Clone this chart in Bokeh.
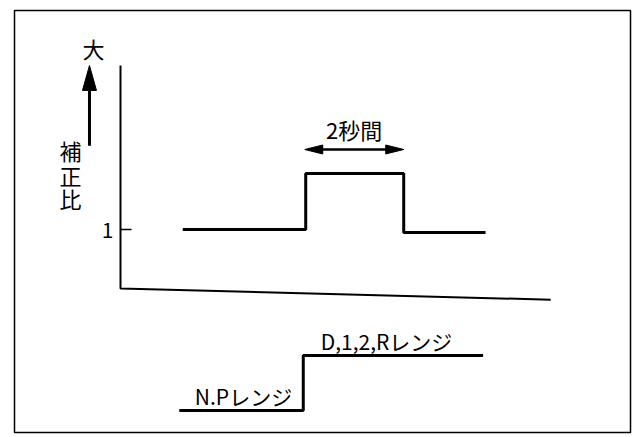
from bokeh.plotting import figure
from bokeh.models import Range1d
from bokeh.core.properties import value
from bokeh.embed import file_html
from bokeh.resources import INLINE

# ---------------- data ----------------
# upper chart: correction ratio vs time (seconds)
ratio_t = [1.27, 3.78, 3.78, 5.78, 5.78, 7.45]
ratio_v = [1.0, 1.0, 1.95, 1.95, 0.95, 0.95]
# lower chart: shift range state (0 = N/P, 1 = D,1,2,R)
range_t = [1.2, 3.73, 3.73, 7.4]
range_v = [0, 0, 1, 1]
range_labels = ["N.Pレンジ", "D,1,2,Rレンジ"]
range_label_t = [2.51, 5.43]
range_label_v = [0.27, 1.27]
pulse_label = "2秒間"
pulse_span = [3.76, 5.78]
pulse_label_v = 2.71
pulse_arrow_v = 2.356
y_tick_value = 1
y_tick_label = "1"
y_axis_chars = ["補", "正", "比"]
y_axis_chars_v = [2.34, 1.93, 1.53]
y_axis_top_label = "大"
# axis lines of the upper chart
axis_t = [0, 0, 8.78]
axis_v = [3.78, 0, -0.19]
# "large" direction arrow beside the y axis
big_arrow_t = -0.633
big_arrow_v = [2.42, 3.78]

# ---------------- layout constants ----------------
PX_X = 49.0   # px per second
PX_Y = 59.0   # px per ratio unit
PX_R = 55.0   # px per range step
FONT = value("Noto Sans CJK JP")

# frame occupies image x 14..630, y 10..432
p = figure(width=636, height=437,
           x_range=Range1d(-106 / PX_X, 510 / PX_X),
           y_range=Range1d(-144 / PX_Y, 278 / PX_Y),
           output_backend="svg", toolbar_location=None,
           x_axis_location=None, y_axis_location=None,
           min_border_left=14, min_border_right=6,
           min_border_top=10, min_border_bottom=5)
p.extra_y_ranges = {"rng": Range1d(-22 / PX_R, 400 / PX_R)}
p.grid.visible = False
p.outline_line_color = "black"
p.outline_line_width = 1.5
p.background_fill_color = "white"
p.border_fill_color = "white"

# axes
p.line(axis_t, axis_v, line_color="black", line_width=2)
# tick at ratio 1
p.line([0, 11 / PX_X], [y_tick_value, y_tick_value], line_color="black", line_width=1.5)
p.text(x=[-13 / PX_X], y=[y_tick_value], text=[y_tick_label], text_font=FONT,
       text_font_size="21px", text_align="center", text_baseline="middle", text_color="black")

# upper signal
p.line(ratio_t, ratio_v, line_color="black", line_width=3)

# lower signal
p.line(range_t, range_v, line_color="black", line_width=3, y_range_name="rng")
p.text(x=range_label_t, y=range_label_v, text=range_labels, text_font=FONT,
       text_font_size="21px", text_align="center", text_baseline="middle",
       text_color="black", y_range_name="rng")

# double arrow (2 s)
hl = 18 / PX_X
hw = 4.5 / PX_Y
a0, a1 = pulse_span
p.line([a0 + hl * 0.5, a1 - hl * 0.5], [pulse_arrow_v, pulse_arrow_v], line_color="black", line_width=2.5)
p.patches(xs=[[a0, a0 + hl, a0 + hl], [a1, a1 - hl, a1 - hl]],
          ys=[[pulse_arrow_v, pulse_arrow_v + hw, pulse_arrow_v - hw],
              [pulse_arrow_v, pulse_arrow_v + hw, pulse_arrow_v - hw]],
          fill_color="black", line_color="black")
p.text(x=[(a0 + a1) / 2], y=[pulse_label_v], text=[pulse_label], text_font=FONT,
       text_font_size="22px", text_align="center", text_baseline="middle", text_color="black")

# vertical "large" arrow
vl = 25 / PX_Y
vw = 7 / PX_X
b0, b1 = big_arrow_v
p.line([big_arrow_t, big_arrow_t], [b0, b1 - vl * 0.5], line_color="black", line_width=3)
p.patch([big_arrow_t, big_arrow_t - vw, big_arrow_t + vw], [b1, b1 - vl, b1 - vl],
        fill_color="black", line_color="black")
p.text(x=[big_arrow_t + 4 / PX_X], y=[b1 + 17 / PX_Y], text=[y_axis_top_label], text_font=FONT,
       text_font_size="22px", text_align="center", text_baseline="middle", text_color="black")
p.text(x=[big_arrow_t - 19 / PX_X] * 3, y=y_axis_chars_v, text=y_axis_chars, text_font=FONT,
       text_font_size="22px", text_align="center", text_baseline="middle", text_color="black")

open("out.html", "w").write(file_html(p, INLINE))
